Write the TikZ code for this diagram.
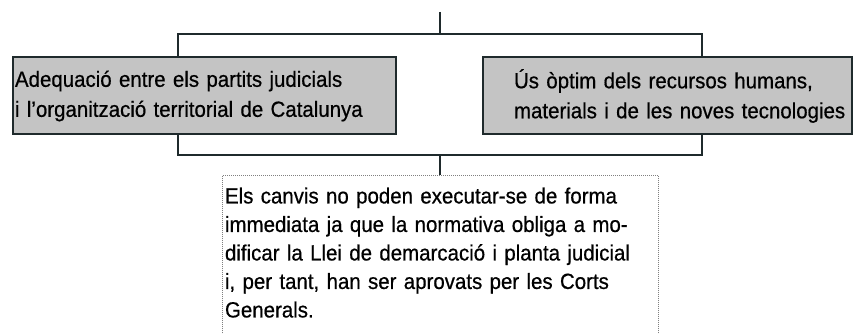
\documentclass[tikz,border=0pt]{standalone}
\usepackage{fontspec}
\setmainfont{Liberation Sans}[FakeStretch=0.93, FakeBold=0.6]
\definecolor{edge}{HTML}{1F2A2C}
\definecolor{boxgrey}{HTML}{C4C4C4}
\begin{document}
\begin{tikzpicture}[x=1pt, y=-1pt,
        link/.style={draw=edge, line width=2pt},
        greybox/.style={draw=edge, line width=2pt, fill=boxgrey, inner xsep=2pt, inner ysep=0pt,
            minimum height=77pt, align=left, font={\fontsize{22}{30}\selectfont}},
        notebox/.style={draw=gray, densely dotted, line width=1pt, fill=white, inner xsep=3pt, inner ysep=12pt,
            align=left, font={\fontsize{22}{28.5}\selectfont}}]
        \clip (0,0) rectangle (854,334);
        \fill[white] (0,0) rectangle (854,334);

        % Bracket
        \coordinate (top) at (440,12);
        \coordinate (fork) at (440,34);
        \coordinate (merge) at (440,155);
        \draw[link] (178,34) rectangle (702,155);

        % Boxes
        \node[greybox, text width=379pt] (lbox) at (204.5,96) {Adequació entre els partits judicials\\i l’organització territorial de Catalunya};
        \node[greybox, text width=365pt] (rbox) at (667.5,96) {\hspace*{29pt}Ús òptim dels recursos humans,\\\hspace*{29pt}materials i de les noves tecnologies};
        \node[notebox, text width=430pt, anchor=north] (note) at (440,175) {Els canvis no poden executar-se de forma\\immediata ja que la normativa obliga a mo-\\dificar la Llei de demarcació i planta judicial\\i, per tant, han ser aprovats per les Corts\\Generals.\rule[-40pt]{0pt}{40pt}};

        % Connectors
        \draw[link] (top) -- (fork);
        \draw[link] (merge) -- (note.north);
    \end{tikzpicture}
\end{document}
